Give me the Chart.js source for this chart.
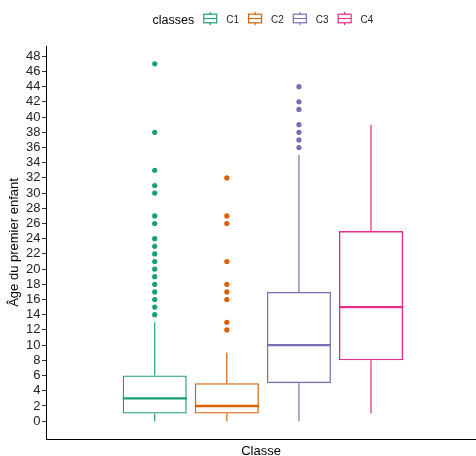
<!DOCTYPE html>
<html>
<head>
<meta charset="utf-8">
<script src="https://cdn.jsdelivr.net/npm/chart.js@4.4.1/dist/chart.umd.min.js"></script>
<style>
html, body { margin: 0; padding: 0; background: #fff; }
#wrap { width: 476px; height: 456px; }
</style>
</head>
<body>
<div id="wrap"><canvas id="mycanvas"></canvas></div>
<script>
// data
var classes = ["C1", "C2", "C3", "C4"];
var whiskerLow = [0, 0, 0, 1];
var q1 = [1, 1, 5, 8];
var median = [3, 2, 10, 15];
var q3 = [6, 5, 17, 25];
var whiskerHigh = [13, 9, 35, 39];
var outliersC1 = [14, 15, 16, 17, 18, 19, 20, 21, 22, 23, 24, 26, 27, 30, 31, 33, 38, 47];
var outliersC2 = [12, 13, 16, 17, 18, 21, 26, 27, 32];
var outliersC3 = [36, 37, 38, 39, 41, 42, 44];
var outliersC4 = [];
var yTicks = [0, 2, 4, 6, 8, 10, 12, 14, 16, 18, 20, 22, 24, 26, 28, 30, 32, 34, 36, 38, 40, 42, 44, 46, 48];

var colors = ["#1B9E77", "#D95F02", "#7570B3", "#E7298A"];
var outliers = [outliersC1, outliersC2, outliersC3, outliersC4];
var boxPct = 0.888;
var halfBox = boxPct / 2;
var fontFamily = '"Liberation Sans", Arial, sans-serif';

var datasets = [];
datasets.push({
	type: "bar",
	label: "boxes",
	data: classes.map(function(c, i) { return {x: i, y: [q1[i], q3[i]]}; }),
	backgroundColor: "rgba(255,255,255,0)",
	borderColor: colors,
	borderWidth: 1.3,
	borderSkipped: false,
	categoryPercentage: 1,
	barPercentage: boxPct,
	order: 1
});
classes.forEach(function(c, i) {
	datasets.push({
		type: "scatter", label: c + " low", showLine: true, pointRadius: 0,
		borderColor: colors[i], borderWidth: 1.2,
		data: [{x: i, y: whiskerLow[i]}, {x: i, y: q1[i]}]
	});
	datasets.push({
		type: "scatter", label: c + " high", showLine: true, pointRadius: 0,
		borderColor: colors[i], borderWidth: 1.2,
		data: [{x: i, y: q3[i]}, {x: i, y: whiskerHigh[i]}]
	});
	datasets.push({
		type: "scatter", label: c + " median", showLine: true, pointRadius: 0,
		borderColor: colors[i], borderWidth: 2.4,
		data: [{x: i - halfBox, y: median[i]}, {x: i + halfBox, y: median[i]}]
	});
	datasets.push({
		type: "scatter", label: c,
		backgroundColor: colors[i], borderWidth: 0, pointRadius: 2.6,
		data: outliers[i].map(function(v) { return {x: i, y: v}; })
	});
});

// ggplot style legend on top: "classes" + box glyphs
var boxLegend = {
	id: "boxLegend",
	afterDraw: function(chart) {
		var ctx = chart.ctx;
		var gap = 8, key = 16;
		ctx.save();
		ctx.font = "12.5px " + fontFamily;
		var tw = ctx.measureText("classes").width;
		ctx.font = "10px " + fontFamily;
		var widths = classes.map(function(c) { return ctx.measureText(c).width; });
		var total = tw;
		widths.forEach(function(w) { total += gap + key + gap + w; });
		var x = (chart.chartArea.left + chart.chartArea.right) / 2 - total / 2 + 2;
		var yc = 18.5;
		ctx.fillStyle = "#000";
		ctx.textBaseline = "alphabetic";
		ctx.font = "12.5px " + fontFamily;
		ctx.fillText("classes", x, 24);
		x += tw + gap;
		ctx.font = "10px " + fontFamily;
		classes.forEach(function(c, i) {
			ctx.strokeStyle = colors[i];
			ctx.lineWidth = 1.2;
			ctx.strokeRect(x + 1.5, yc - 4.3, 13, 8.6);
			ctx.beginPath();
			ctx.moveTo(x + 8, yc - 6.5); ctx.lineTo(x + 8, yc - 4.3);
			ctx.moveTo(x + 8, yc + 4.3); ctx.lineTo(x + 8, yc + 6.5);
			ctx.moveTo(x + 1.5, yc); ctx.lineTo(x + 14.5, yc);
			ctx.stroke();
			x += key + gap;
			ctx.fillStyle = "#222";
			ctx.fillText(c, x, 23);
			x += widths[i] + gap;
		});
		ctx.restore();
	}
};

var ctx = document.getElementById("mycanvas");
var chart = new Chart(ctx, {
	data: { datasets: datasets },
	plugins: [boxLegend],
	options: {
		responsive: true,
		maintainAspectRatio: false,
		animation: false,
		layout: { autoPadding: false, padding: { top: 46, left: 0, right: 0, bottom: 0 } },
		plugins: {
			legend: { display: false },
			tooltip: { enabled: false }
		},
		scales: {
			x: {
				type: "linear",
				offset: false,
				min: -1.508,
				max: 4.456,
				ticks: { display: false },
				grid: { display: false, drawTicks: false, offset: false },
				border: { display: true, color: "#000", width: 1 },
				title: {
					display: true, text: "Classe", color: "#000",
					font: { family: fontFamily, size: 13 },
					padding: { top: 0, bottom: -3 }
				},
				afterFit: function(s) { s.height = 17; }
			},
			y: {
				type: "linear",
				min: -2.35,
				max: 49.35,
				afterBuildTicks: function(s) {
					s.ticks = yTicks.map(function(v) { return {value: v}; });
				},
				ticks: {
					color: "#222", padding: 1.5, autoSkip: false,
					font: { family: fontFamily, size: 13 }
				},
				grid: { display: true, drawOnChartArea: false, drawTicks: true, tickLength: 4, color: "#333", lineWidth: 1 },
				border: { display: true, color: "#000", width: 1 },
				title: {
					display: true, text: "Âge du premier enfant", color: "#000",
					font: { family: fontFamily, size: 13 },
					padding: { top: 7, bottom: 0 }
				},
				afterFit: function(s) { s.width = 46; }
			}
		}
	}
});
</script>
</body>
</html>
